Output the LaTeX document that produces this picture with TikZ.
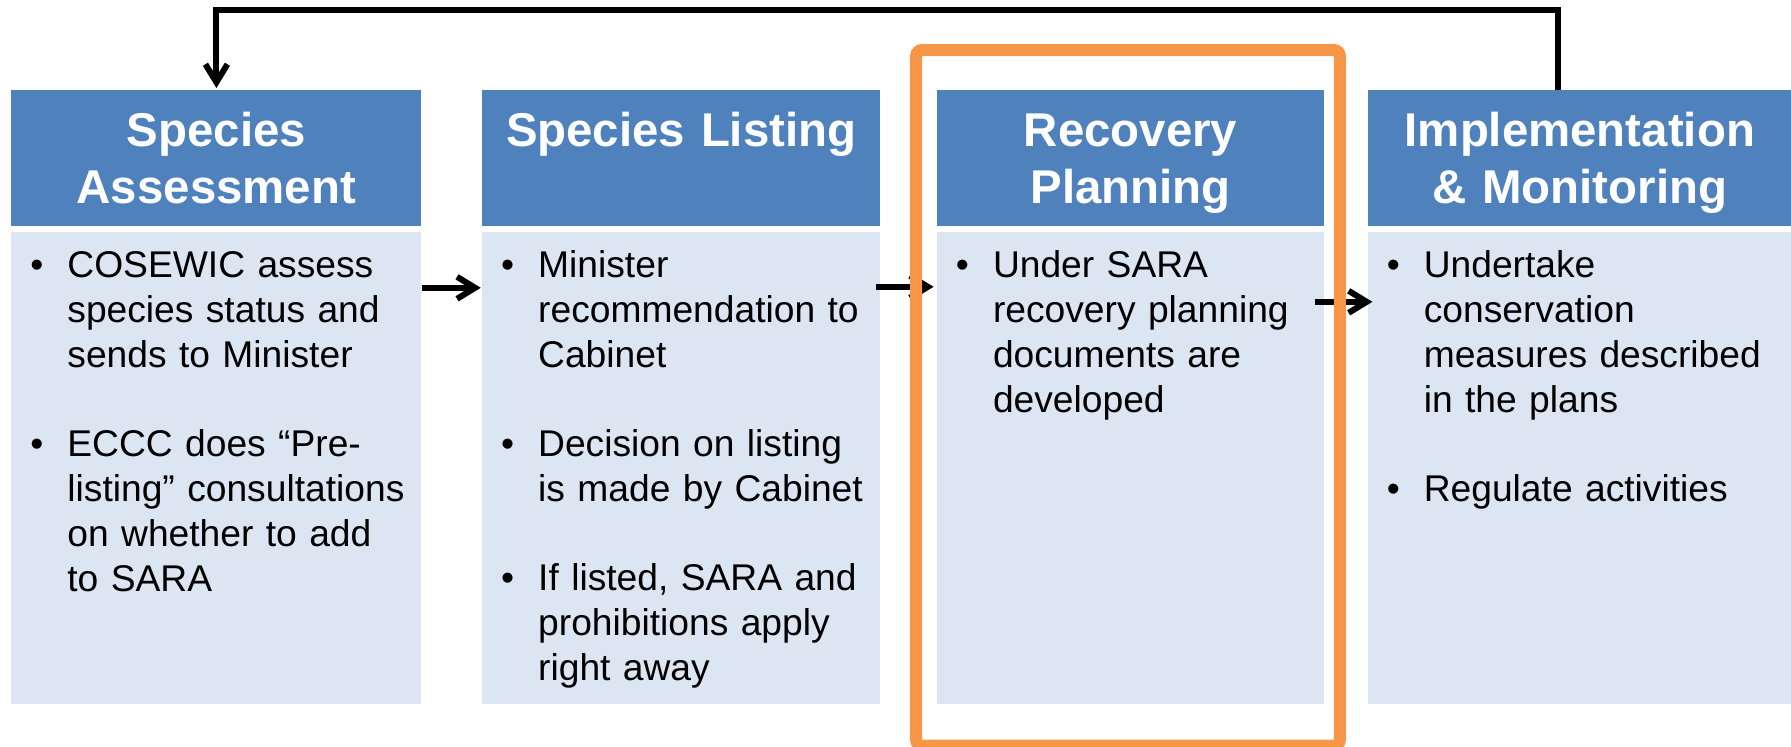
\documentclass[tikz,border=0pt]{standalone}
\usepackage{fontspec}
\setmainfont{Liberation Sans}
\usetikzlibrary{arrows.meta, positioning}

\definecolor{headblue}{HTML}{4F81BD}
\definecolor{bodyblue}{HTML}{DCE6F2}
\definecolor{frameorange}{HTML}{F79646}

\newcommand{\bitem}[1]{{\let\\\newline\hangindent=28pt\hangafter=0\noindent\llap{\textbullet\hspace{12pt}}#1\par}\vskip22pt}

\begin{document}
\begin{tikzpicture}[
head/.style={rectangle, fill=headblue, text=white, inner sep=0pt, align=center,
text height=28pt, text depth=40pt, font=\fontsize{23.7}{28.5}\selectfont\bfseries},
body/.style={rectangle, fill=bodyblue, inner sep=0pt, align=left,
text height=22.5pt, text depth=213.5pt, font=\fontsize{18.6}{22.5}\selectfont},
flow/.style={draw, line width=3pt, -{Straight Barb[length=9pt, width=11pt]}},
highlight/.style={draw=frameorange, line width=6pt, rounded corners=3pt}
]
\useasboundingbox (0,0) rectangle (895.5pt,-373pt);

\node[head, text width=205pt, anchor=north west] (assess-head) at (5.5pt,-45pt) {Species\\Assessment};
\node[body, text width=205pt, below=2.5pt of assess-head] (assess-body) {%
\bitem{COSEWIC assess\\species status and\\sends to Minister}%
\bitem{ECCC does “Pre-\\listing” consultations\\on whether to add\\to SARA}};

\node[head, text width=199pt, right=30pt of assess-head] (list-head) {Species Listing};
\node[body, text width=199pt, below=2.5pt of list-head] (list-body) {%
\bitem{Minister\\recommendation to\\Cabinet}%
\bitem{Decision on listing\\is made by Cabinet}%
\bitem{If listed, SARA and\\prohibitions apply\\right away}};

\node[head, text width=193.5pt, right=28pt of list-head] (plan-head) {Recovery\\Planning};
\node[body, text width=193.5pt, below=2.5pt of plan-head] (plan-body) {%
\bitem{Under SARA\\recovery planning\\documents are\\developed}};

\node[head, text width=212pt, right=21.5pt of plan-head] (impl-head) {Implementation\\\& Monitoring};
\node[body, text width=212pt, below=2.5pt of impl-head] (impl-body) {%
\bitem{Undertake\\conservation\\measures described\\in the plans}%
\bitem{Regulate activities}};

\draw[flow, shorten >=0.5pt] ([yshift=-28pt]assess-body.north east) -- ([yshift=-28pt]list-body.north west);
\draw[flow] ([xshift=-2.5pt, yshift=-27.5pt]list-body.north east) -- ([xshift=-1.5pt, yshift=-27.5pt]plan-body.north west);
\draw[flow] ([xshift=-4.5pt, yshift=-35pt]plan-body.north east) -- ([xshift=2.5pt, yshift=-35pt]impl-body.north west);
\draw[flow, shorten >=1pt] ([xshift=-11pt]impl-head.north) -- ++(0,40pt) -| (assess-head.north);

\draw[highlight] ([xshift=-10.25pt, yshift=20pt]plan-head.north west) rectangle ([xshift=7.75pt, yshift=-20.5pt]plan-body.south east);
\end{tikzpicture}
\end{document}
